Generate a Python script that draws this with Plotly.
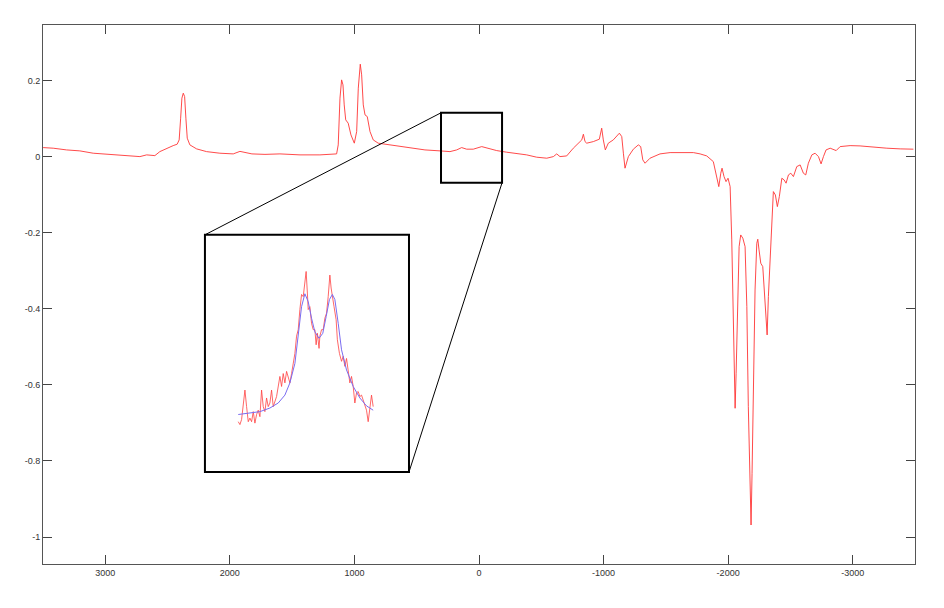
import plotly.graph_objects as go

# ---------------- data ----------------
main_x = [3499, 3418, 3311, 3204, 3097, 2990, 2883, 2802, 2722, 2668, 2602, 2562, 2508, 2455,
          2423, 2407, 2395, 2385, 2374, 2363, 2353, 2342, 2321, 2267, 2187, 2080, 1973, 1919,
          1823, 1718, 1598, 1437, 1277, 1143, 1130, 1116, 1103, 1092, 1082, 1070, 1050, 1028,
          1001, 982, 969, 953, 942, 929, 915, 897, 875, 849, 809, 755, 648, 540, 434, 313, 233,
          179, 139, 99, 46, -22, -62, -142, -222, -303, -383, -463, -544, -597, -624, -650,
          -704, -757, -797, -825, -838, -851, -865, -918, -966, -985, -998, -1014, -1038,
          -1078, -1127, -1146, -1159, -1172, -1199, -1239, -1279, -1298, -1315, -1333, -1373,
          -1453, -1534, -1614, -1721, -1775, -1828, -1881, -1909, -1925, -1941, -1951, -1967,
          -1983, -1999, -2016, -2029, -2042, -2050, -2056, -2064, -2074, -2088, -2101, -2118,
          -2136, -2150, -2162, -2176, -2184, -2192, -2203, -2216, -2230, -2238, -2248, -2262,
          -2278, -2291, -2302, -2313, -2323, -2337, -2350, -2363, -2379, -2395, -2411, -2431,
          -2449, -2465, -2484, -2503, -2524, -2551, -2578, -2604, -2623, -2644, -2672, -2698,
          -2725, -2746, -2765, -2786, -2819, -2845, -2867, -2899, -2979, -3059, -3166, -3274,
          -3381, -3487]
main_y = [0.0245, 0.0229, 0.0184, 0.0158, 0.0097, 0.0071, 0.0053, 0.0034, 0.0008, 0.0053,
          0.0034, 0.0139, 0.0229, 0.0297, 0.0334, 0.0447, 0.1018, 0.1545, 0.1676, 0.1587,
          0.1018, 0.0492, 0.0316, 0.0211, 0.0139, 0.0097, 0.0079, 0.0145, 0.0079, 0.0066,
          0.0079, 0.0053, 0.0053, 0.0079, 0.0316, 0.1545, 0.2026, 0.1895, 0.1368, 0.0974,
          0.0887, 0.0579, 0.0361, 0.0666, 0.1808, 0.2439, 0.2158, 0.1368, 0.1105, 0.1061,
          0.0666, 0.0447, 0.0361, 0.0334, 0.0289, 0.0245, 0.0184, 0.0158, 0.0139, 0.0184,
          0.0245, 0.0203, 0.0203, 0.0271, 0.0229, 0.0166, 0.0124, 0.0097, 0.0053, -0.0008,
          -0.0034, 0.0008, 0.0079, 0.0008, 0.0026, 0.0229, 0.0361, 0.0447, 0.0597, 0.0403,
          0.0361, 0.0403, 0.0466, 0.0755, 0.0447, 0.0184, 0.0361, 0.0447, 0.0624, 0.0534,
          0.0097, -0.0297, 0.0008, 0.0203, 0.0316, 0.0271, -0.0079, -0.0166, -0.0034, 0.0079,
          0.0113, 0.0118, 0.0113, 0.0079, 0.0026, -0.0124, -0.0518, -0.0782, -0.0429, -0.0297,
          -0.0518, -0.0650, -0.0561, -0.0782, -0.2184, -0.4376, -0.5692, -0.6613, -0.5692,
          -0.3939, -0.2361, -0.2053, -0.2139, -0.2361, -0.3939, -0.6571, -0.8763, -0.9684,
          -0.8324, -0.5692, -0.3500, -0.2271, -0.2166, -0.2447, -0.2797, -0.2887, -0.3500,
          -0.4289, -0.4684, -0.3676, -0.2624, -0.1482, -0.0913, -0.1000, -0.1308, -0.1045,
          -0.0561, -0.0605, -0.0692, -0.0474, -0.0429, -0.0518, -0.0255, -0.0211, -0.0429,
          -0.0474, -0.0166, 0.0053, 0.0097, 0.0008, -0.0184, 0.0008, 0.0184, 0.0229, 0.0203,
          0.0166, 0.0271, 0.0297, 0.0289, 0.0255, 0.0229, 0.0211, 0.0203]

# inset (magnified view of the small boxed region)
inset_raw_x = [225, 221, 217, 213, 209, 205, 201, 197, 193, 189, 185, 181, 177, 173, 169, 165,
               161, 157, 153, 149, 145, 141, 137, 133, 125, 121, 117, 113, 109, 105, 101, 97,
               93, 89, 85, 81, 77, 73, 69, 65, 62, 59, 57, 53, 49, 45, 41, 38, 35, 31, 29, 25,
               21, 17, 13, 9, 5, 2, -2, -5, -10, -13, -18, -23, -27, -31, -35, -39, -43, -47,
               -51, -55, -59, -63, -67, -71, -75, -79, -83, -87, -91, -95, -99]
inset_raw_y = [0.0140, 0.0136, 0.0143, 0.0166, 0.0184, 0.0161, 0.0140, 0.0145, 0.0140, 0.0154,
               0.0138, 0.0150, 0.0156, 0.0147, 0.0184, 0.0161, 0.0154, 0.0173, 0.0161, 0.0166,
               0.0184, 0.0161, 0.0168, 0.0175, 0.0203, 0.0189, 0.0207, 0.0194, 0.0210, 0.0201,
               0.0194, 0.0207, 0.0221, 0.0235, 0.0259, 0.0268, 0.0296, 0.0317, 0.0314, 0.0333,
               0.0349, 0.0319, 0.0296, 0.0300, 0.0277, 0.0268, 0.0268, 0.0247, 0.0263, 0.0242,
               0.0259, 0.0268, 0.0268, 0.0284, 0.0291, 0.0314, 0.0344, 0.0326, 0.0314, 0.0300,
               0.0282, 0.0254, 0.0235, 0.0224, 0.0231, 0.0217, 0.0228, 0.0212, 0.0194, 0.0203,
               0.0189, 0.0166, 0.0180, 0.0182, 0.0175, 0.0177, 0.0170, 0.0163, 0.0156, 0.0140,
               0.0163, 0.0177, 0.0161]
inset_fit_x = [225, 197, 173, 149, 129, 113, 101, 89, 81, 73, 65, 57, 49, 41, 31, 22, 14, 6,
               -1, -7, -15, -23, -35, -51, -67, -83, -99]
inset_fit_y = [0.0150, 0.0152, 0.0154, 0.0159, 0.0166, 0.0177, 0.0194, 0.0221, 0.0259, 0.0300,
               0.0318, 0.0307, 0.0284, 0.0265, 0.0256, 0.0263, 0.0286, 0.0310, 0.0317, 0.0310,
               0.0277, 0.0240, 0.0212, 0.0189, 0.0173, 0.0162, 0.0156]

x_tick_vals = [3000, 2000, 1000, 0, -1000, -2000, -3000]
x_tick_text = ["3000", "2000", "1000", "0", "-1000", "-2000", "-3000"]
y_tick_vals = [0.2, 0, -0.2, -0.4, -0.6, -0.8, -1]
y_tick_text = ["0.2", "0", "-0.2", "-0.4", "-0.6", "-0.8", "-1"]

# zoom regions (data coordinates of the main axes)
small_box = dict(x0=305, x1=-185, y0=-0.068, y1=0.116)
big_box = dict(x0=2200, x1=562, y0=-0.829, y1=-0.205)

X_RANGE = [3500, -3500]
Y_RANGE = [-1.071, 0.347]
INSET_Y_RANGE = [0.007, 0.040]

# ---------------- figure ----------------
def xfrac(v):
    return (v - X_RANGE[0]) / (X_RANGE[1] - X_RANGE[0])

def yfrac(v):
    return (v - Y_RANGE[0]) / (Y_RANGE[1] - Y_RANGE[0])

fig = go.Figure()
fig.add_trace(go.Scatter(x=main_x, y=main_y, mode="lines",
                         line=dict(color="#ff3535", width=0.9), showlegend=False,
                         hoverinfo="skip"))
fig.add_trace(go.Scatter(x=inset_raw_x, y=inset_raw_y, mode="lines", xaxis="x2", yaxis="y2",
                         line=dict(color="#ff4040", width=0.8), showlegend=False,
                         hoverinfo="skip"))
fig.add_trace(go.Scatter(x=inset_fit_x, y=inset_fit_y, mode="lines", xaxis="x2", yaxis="y2",
                         line=dict(color="#7a6cf0", width=1), showlegend=False,
                         hoverinfo="skip"))

axis_font = dict(family="Liberation Sans, Arial, sans-serif", size=9, color="#333333")
fig.update_layout(
    width=936, height=600,
    margin=dict(l=35, r=29, t=17, b=44),
    paper_bgcolor="white", plot_bgcolor="white",
    xaxis=dict(range=X_RANGE, tickvals=x_tick_vals, ticktext=x_tick_text,
               showgrid=False, zeroline=False, showline=True, linecolor="#555555",
               linewidth=1, mirror="ticks", ticks="inside", ticklen=9, tickcolor="#444444",
               tickfont=axis_font),
    yaxis=dict(range=Y_RANGE, tickvals=y_tick_vals, ticktext=y_tick_text,
               showgrid=False, zeroline=False, showline=True, linecolor="#555555",
               linewidth=1, mirror="ticks", ticks="inside", ticklen=9, tickcolor="#444444",
               tickfont=axis_font),
    xaxis2=dict(domain=[xfrac(big_box["x0"]), xfrac(big_box["x1"])],
                range=[small_box["x0"], small_box["x1"]], anchor="y2", visible=False),
    yaxis2=dict(domain=[yfrac(big_box["y0"]), yfrac(big_box["y1"])],
                range=INSET_Y_RANGE, anchor="x2", visible=False),
)

# boxes and connector lines
fig.add_shape(type="rect", xref="x", yref="y", line=dict(color="black", width=2), **small_box)
fig.add_shape(type="rect", xref="x", yref="y", line=dict(color="black", width=2), **big_box)
fig.add_shape(type="line", xref="x", yref="y", line=dict(color="black", width=1),
              x0=big_box["x0"], y0=big_box["y1"], x1=small_box["x0"], y1=small_box["y1"])
fig.add_shape(type="line", xref="x", yref="y", line=dict(color="black", width=1),
              x0=big_box["x1"], y0=big_box["y0"], x1=small_box["x1"], y1=small_box["y0"])

fig.write_html("out.html")
